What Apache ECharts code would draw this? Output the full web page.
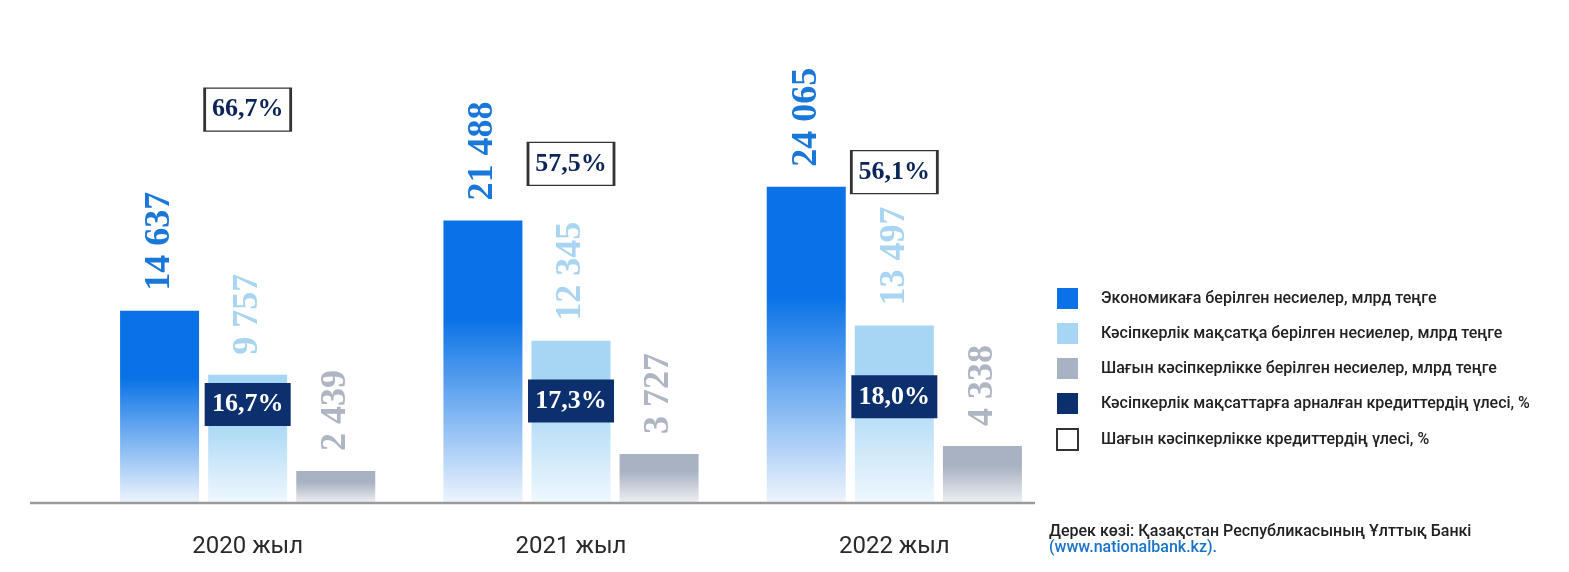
<!DOCTYPE html>
<html>
<head>
<meta charset="utf-8">
<script src="https://cdn.jsdelivr.net/npm/echarts@6/dist/echarts.min.js"></script>
<style>
html,body{margin:0;padding:0;background:#fff;}
#chart{width:1569px;height:572px;}
</style>
</head>
<body>
<div id="chart"></div>
<script>
const categories = ['2020 жыл', '2021 жыл', '2022 жыл'];
const economyLoans = [14637, 21488, 24065];
const businessLoans = [9757, 12345, 13497];
const smallBusinessLoans = [2439, 3727, 4338];
const businessShare = [16.7, 17.3, 18.0];
const smallBusinessShare = [66.7, 57.5, 56.1];

const seriesNames = [
  'Экономикаға берілген несиелер, млрд теңге',
  'Кәсіпкерлік мақсатқа берілген несиелер, млрд теңге',
  'Шағын кәсіпкерлікке берілген несиелер, млрд теңге',
  'Кәсіпкерлік мақсаттарға арналған кредиттердің үлесі, %',
  'Шағын кәсіпкерлікке кредиттердің үлесі, %'
];

const NARROW = 'Roboto, "Noto Sans", sans-serif';
const SERIF = '"Liberation Serif", "DejaVu Serif", serif';

function thousands(v) { return String(v).replace(/\B(?=(\d{3})+(?!\d))/g, ' '); }
function pct(v) { return v.toFixed(1).replace('.', ',') + '%'; }
function grad(top, bottom) {
  return new echarts.graphic.LinearGradient(0, 0, 0, 1, [
    { offset: 0, color: top }, { offset: 0.35, color: top }, { offset: 1, color: bottom }
  ]);
}
function valueLabel(color) {
  return {
    show: true, position: 'top', rotate: 90, distance: 20,
    align: 'left', verticalAlign: 'middle',
    fontFamily: SERIF, fontWeight: 'bold', fontSize: 36, color: color,
    formatter: p => thousands(p.value)
  };
}

const BLUE = '#0a72e6', LIGHT = '#a6d6f4', GRAY = '#a9b2c2', NAVY = '#0c2f6e';

const chart = echarts.init(document.getElementById('chart'), null, { renderer: 'canvas' });
chart.setOption({
  animation: false,
  backgroundColor: '#ffffff',
  grid: { left: 86, right: 513, top: 43, bottom: 69 },
  legend: {
    orient: 'vertical', left: 1051, top: 283,
    itemWidth: 21, itemHeight: 21, itemGap: 14, icon: 'rect',
    textStyle: { fontFamily: NARROW, fontSize: 16, fontWeight: 500, color: '#222', padding: [0, 0, 0, 18] },
    data: [
      { name: seriesNames[0], itemStyle: { color: BLUE } },
      { name: seriesNames[1], itemStyle: { color: LIGHT } },
      { name: seriesNames[2], itemStyle: { color: GRAY } },
      { name: seriesNames[3], itemStyle: { color: NAVY } },
      { name: seriesNames[4], itemStyle: { color: '#fff', borderColor: '#333', borderWidth: 2 } }
    ]
  },
  xAxis: {
    type: 'category', data: categories,
    axisLine: { show: false }, axisTick: { show: false },
    axisLabel: { margin: 32, fontFamily: NARROW, fontSize: 24, color: '#2a2a2a' }
  },
  yAxis: [
    { type: 'value', min: 0, max: 35000, show: false, splitLine: { show: false } },
    { type: 'value', min: 0, max: 78, show: false, splitLine: { show: false } }
  ],
  series: [
    {
      name: seriesNames[0], type: 'bar', data: economyLoans, barWidth: 79, barGap: '11.5%',
      itemStyle: { color: grad(BLUE, '#eef5fd') }, label: valueLabel('#1877d8')
    },
    {
      name: seriesNames[1], type: 'bar', data: businessLoans, barWidth: 79, barGap: '11.5%',
      itemStyle: { color: grad(LIGHT, '#f0f8fe') }, label: valueLabel('#a9d5f2')
    },
    {
      name: seriesNames[2], type: 'bar', data: smallBusinessLoans, barWidth: 79, barGap: '11.5%',
      itemStyle: { color: grad(GRAY, '#eef0f4') }, label: valueLabel('#aeb6c4')
    },
    {
      name: seriesNames[3], type: 'scatter', yAxisIndex: 1, data: businessShare,
      symbol: 'rect', symbolSize: [86, 43], z: 5,
      itemStyle: { color: NAVY, opacity: 1 },
      label: { show: true, position: 'inside', fontFamily: SERIF, fontWeight: 'bold', fontSize: 26, color: '#fff',
               formatter: p => pct(p.value) }
    },
    {
      name: seriesNames[4], type: 'scatter', yAxisIndex: 1, data: smallBusinessShare,
      symbol: 'rect', symbolSize: [86, 43], z: 5,
      itemStyle: { color: '#fff', borderColor: '#333', borderWidth: 2, opacity: 1 },
      label: { show: true, position: 'inside', fontFamily: SERIF, fontWeight: 'bold', fontSize: 26, color: '#0b2559',
               formatter: p => pct(p.value) }
    }
  ],
  graphic: [
    { type: 'line', shape: { x1: 30, y1: 503, x2: 1035, y2: 503 }, style: { stroke: '#9a9a9a', lineWidth: 2.5 }, z: 10 },
    { type: 'text', left: 1049, top: 524, style: { text: 'Дерек көзі: Қазақстан Республикасының Ұлттық Банкі',
        font: '500 16px ' + NARROW, fill: '#222' } },
    { type: 'text', left: 1049, top: 540, style: { text: '(www.nationalbank.kz).',
        font: '500 16px ' + NARROW, fill: '#1a73c8' } }
  ]
});
</script>
</body>
</html>
